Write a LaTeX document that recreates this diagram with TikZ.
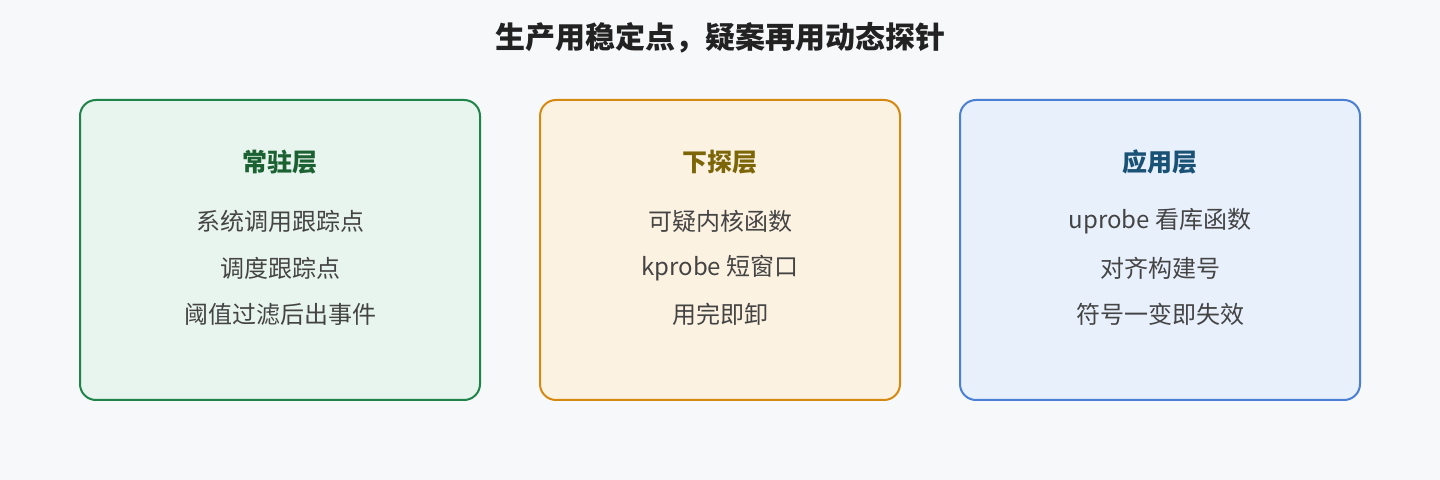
\documentclass[tikz,border=0pt]{standalone}
\usepackage{fontspec}
\setmainfont{Noto Sans CJK SC}
\usepackage{xcolor}
\usepackage{tikz}

\definecolor{bgcol}{HTML}{F7F8FA}
\definecolor{txtcol}{HTML}{444444}
\definecolor{grnline}{HTML}{1E8449}
\definecolor{grnfill}{HTML}{E8F5EE}
\definecolor{grntext}{HTML}{1B6132}
\definecolor{orgline}{HTML}{D68910}
\definecolor{orgfill}{HTML}{FCF2E2}
\definecolor{orgtext}{HTML}{7D6608}
\definecolor{bluline}{HTML}{4A7FD4}
\definecolor{blufill}{HTML}{E8F0FC}
\definecolor{blutext}{HTML}{1A5276}

\tikzset{
  layerbox/.style={draw=#1line, fill=#1fill, line width=1pt, rounded corners=8pt, minimum height=150pt},
  layerhead/.style={text=#1text, font=\fontsize{12.5}{15}\selectfont\bfseries},
  layeritem/.style={text=txtcol, font=\fontsize{12}{14}\selectfont}
}

\begin{document}
\begin{tikzpicture}[x=0.5pt,y=-0.5pt]
\fill[bgcol] (0,0) rectangle (1440,480);
\node (Title) at (720,38) {\fontsize{15}{18}\selectfont\bfseries\color[HTML]{222222} 生产用稳定点，疑案再用动态探针};
% three layers
\node[layerbox=grn, minimum width=200pt] (Resident) at (280,250) {};
\node[layerbox=org, minimum width=180pt] (Probe) at (720,250) {};
\node[layerbox=blu, minimum width=200pt] (App) at (1160,250) {};
\node[layerhead=grn] (ResidentHead) at (280,162) {常驻层};
\node[layeritem] (ResidentA) at (280,221) {系统调用跟踪点};
\node[layeritem] (ResidentB) at (280,268) {调度跟踪点};
\node[layeritem] (ResidentC) at (280,314) {阈值过滤后出事件};
\node[layerhead=org] (ProbeHead) at (720,162) {下探层};
\node[layeritem] (ProbeA) at (720,221) {可疑内核函数};
\node[layeritem] (ProbeB) at (720,268) {kprobe 短窗口};
\node[layeritem] (ProbeC) at (720,314) {用完即卸};
\node[layerhead=blu] (AppHead) at (1160,162) {应用层};
\node[layeritem] (AppA) at (1160,221) {uprobe 看库函数};
\node[layeritem] (AppB) at (1160,268) {对齐构建号};
\node[layeritem] (AppC) at (1160,314) {符号一变即失效};
\end{tikzpicture}
\end{document}
